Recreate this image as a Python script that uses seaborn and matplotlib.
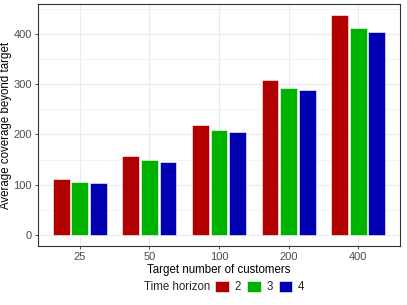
import seaborn as sns
import pandas as pd
import matplotlib
matplotlib.use('Agg')
from matplotlib import pyplot as plt
from matplotlib.patches import Patch
from matplotlib.ticker import MultipleLocator

targets = ['25', '50', '100', '200', '400']
horizons = ['2', '3', '4']
cov_h2 = [111, 156.5, 218.5, 309, 437.5]
cov_h3 = [106, 149, 208.5, 293, 412.5]
cov_h4 = [104, 146, 204.5, 287.5, 404.5]
colors = ['#b20000', '#00b200', '#0000b2']

rows = []
for h, vals in zip(horizons, [cov_h2, cov_h3, cov_h4]):
    for t, v in zip(targets, vals):
        rows.append({'target': t, 'horizon': h, 'coverage': v})
df = pd.DataFrame(rows)

sns.set_style('white')
plt.rcParams['font.family'] = ['Liberation Sans', 'DejaVu Sans']

fig = plt.figure(figsize=(4.07, 3.05), dpi=100)
ax = fig.add_axes([38 / 407, 1 - 246 / 305, 362 / 407, 242 / 305])

sns.barplot(data=df, x='target', y='coverage', hue='horizon', order=targets,
            hue_order=horizons, palette=colors, saturation=1, width=0.8, gap=0.1,
            edgecolor='#ffffff', linewidth=0.4, legend=False, ax=ax, zorder=3)

ax.set_xlim(-0.6, 4.6)
ax.set_ylim(-21.9, 459.5)
ax.yaxis.set_major_locator(MultipleLocator(100))
ax.yaxis.set_minor_locator(MultipleLocator(50))
ax.grid(True, which='major', color='#ebebeb', linewidth=0.8, zorder=0)
ax.grid(True, which='minor', axis='y', color='#ebebeb', linewidth=0.4, zorder=0)
ax.set_axisbelow(True)
for s in ax.spines.values():
    s.set_color('#333333')
    s.set_linewidth(0.8)
ax.tick_params(axis='both', which='major', length=2.5, width=0.6, color='#333333',
               labelsize=8, labelcolor='#4d4d4d', pad=2, bottom=True, left=True)
ax.tick_params(axis='y', which='minor', length=0, left=False)
ax.set_xlabel('Target number of customers', fontsize=8.3, color='black', labelpad=1)
ax.set_ylabel('Average coverage beyond target', fontsize=8.3, color='black', labelpad=1)

handles = [Patch(facecolor=c, edgecolor='white', linewidth=0.4) for c in colors]
fig.legend(handles, horizons, loc='center left', bbox_to_anchor=(207 / 407, 1 - 287 / 305),
           ncol=3, frameon=False, fontsize=8.3, handlelength=1.2, handleheight=1.2,
           handletextpad=0.5, columnspacing=0.5, borderpad=0.2)
fig.text(144 / 407, 1 - 287 / 305, 'Time horizon', fontsize=8.3, va='center', ha='left')

fig.savefig('out.png', dpi=100)
